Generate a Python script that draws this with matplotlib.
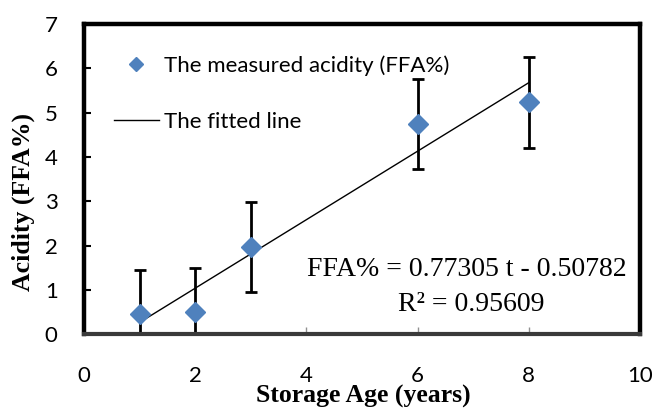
import matplotlib.pyplot as plt

# data
age = [1, 2, 3, 6, 8]
ffa = [0.45, 0.50, 1.97, 4.75, 5.23]
ffa_err = [1.0, 1.0, 1.02, 1.02, 1.02]

slope, intercept = 0.77305, -0.50782
fit_x = [1, 8]
fit_y = [slope * t + intercept for t in fit_x]

tick_font = 'Lato'
serif = 'Liberation Serif'

fig = plt.figure(figsize=(6.57, 4.08), dpi=100)
ax = fig.add_axes([0.128, 0.181, 0.846, 0.760])

ax.errorbar(age, ffa, yerr=ffa_err, fmt='none', ecolor='black',
            elinewidth=2, capsize=4, capthick=2, zorder=2)
ax.plot(fit_x, fit_y, color='black', lw=1, label='The fitted line', zorder=3)
ax.plot(age, ffa, 'D', color='#4F81BD', ms=10, label='The measured acidity (FFA%)',
        zorder=4, linestyle='none')

ax.set_xlim(0, 10)
ax.set_ylim(0, 7)
ax.set_xticks(range(0, 11, 2))
ax.set_yticks(range(0, 8))

for s in ['left', 'top', 'right']:
    ax.spines[s].set_linewidth(3.2)
    ax.spines[s].set_color('black')
ax.spines['bottom'].set_linewidth(3)
ax.spines['bottom'].set_color('#3a3a3a')

ax.tick_params(axis='y', direction='in', length=5, width=1.5, pad=19,
               labelsize=16, color='black')
ax.tick_params(axis='x', direction='in', length=5, width=1, pad=23,
               labelsize=16, color='#909090')
for lab in ax.get_xticklabels() + ax.get_yticklabels():
    lab.set_fontfamily(tick_font)

# axis titles
fig.text(363 / 657, 1 - 396 / 408, 'Storage Age (years)', ha='center', va='center',
         fontfamily=serif, fontweight='bold', fontsize=18.5)
fig.text(23 / 657, 1 - 202 / 408, 'Acidity (FFA%)', ha='center', va='center',
         rotation=90, fontfamily=serif, fontweight='bold', fontsize=18.5)

# fitted equation
ax.text(6.89, 1.47, 'FFA% = 0.77305 t - 0.50782', ha='center', va='center',
        fontfamily=serif, fontsize=20)
ax.text(6.96, 0.68, 'R² = 0.95609', ha='center', va='center',
        fontfamily=serif, fontsize=20)

handles, labels = ax.get_legend_handles_labels()
leg = ax.legend(handles[::-1], labels[::-1], loc='upper left',
                bbox_to_anchor=(0.018, 0.963), frameon=False,
                prop={'family': tick_font, 'size': 16}, markerscale=0.75,
                handlelength=2.0, handletextpad=0.25, labelspacing=1.6)

plt.savefig('out.png', dpi=100)
plt.close()
